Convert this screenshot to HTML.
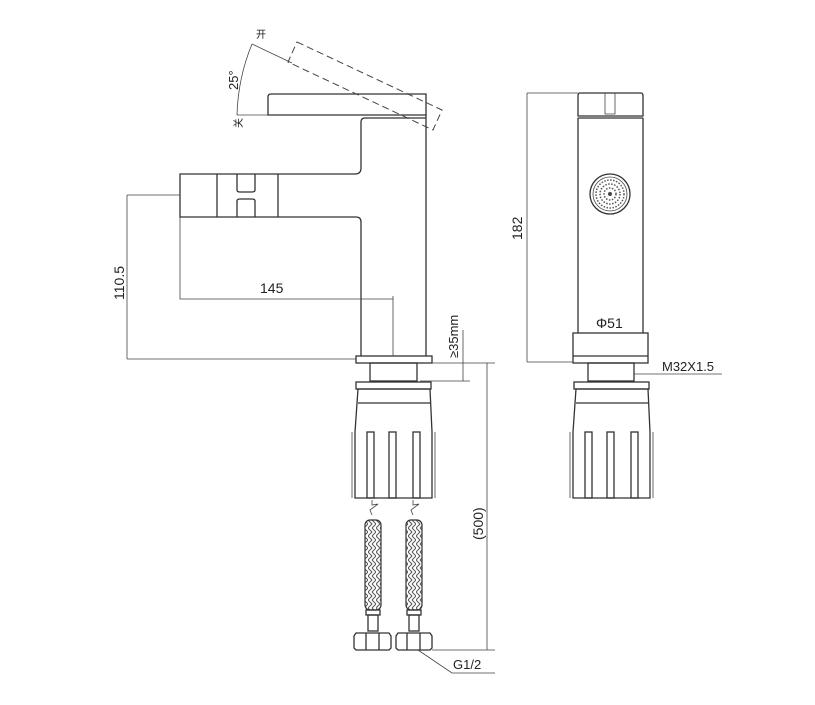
<!DOCTYPE html>
<html><head><meta charset="utf-8"><style>
html,body{margin:0;padding:0;background:#fff;}
svg{display:block;}
text{font-family:"Liberation Sans","Noto Sans CJK SC",sans-serif;fill:#222;}
.s{fill:none;stroke:#333;stroke-width:1.3;}
.t{fill:none;stroke:#444;stroke-width:0.8;}
.d{fill:none;stroke:#444;stroke-width:1;stroke-dasharray:7,4;}
</style></head><body>
<svg width="815" height="705" viewBox="0 0 815 705" xmlns="http://www.w3.org/2000/svg">
<defs>
<pattern id="br" width="8" height="8" patternUnits="userSpaceOnUse">
<path d="M0 0 L4 4 L0 8 M4 0 L8 4 L4 8" stroke="#555" stroke-width="1" fill="none"/>
</pattern>
<g id="nut">
<rect x="356" y="382" width="75" height="7" class="s"/>
<path d="M358 389 L430 389 L432 432 L432 498 L355 498 L355 432 Z" class="s"/>
<line x1="358" y1="403" x2="430" y2="403" class="s"/>
<line x1="352" y1="432" x2="352" y2="498" class="t"/>
<line x1="435" y1="432" x2="435" y2="498" class="t"/>
<rect x="367" y="432" width="7" height="66" class="s"/>
<rect x="389" y="432" width="7" height="66" class="s"/>
<rect x="413" y="432" width="7" height="66" class="s"/>
</g>
</defs>

<!-- LEFT VIEW -->
<path d="M271 94 L426 94 L426 115 L268 115 L268 97 Q268 94 271 94 Z" class="s"/>
<polygon points="297,42 442,110 433,130 288,62" class="d"/>
<line x1="237" y1="115" x2="268" y2="115" class="t"/>
<line x1="252" y1="44" x2="292" y2="63" class="t"/>
<path d="M252 44 Q238 78 237 115" class="t"/>
<text x="256" y="38" font-size="10">开</text>
<text x="242" y="128" font-size="10" transform="rotate(-90 242 128)">关</text>
<text x="238" y="90" font-size="13" transform="rotate(-90 238 90)">25°</text>
<path d="M426 115 L426 356 M361 356 L361 222 Q361 217 356 217 L180 217 L180 174 L355 174 Q361 174 361 168 L361 122 Q361 118 365 118 L426 118" class="s"/>
<line x1="217" y1="174" x2="217" y2="217" class="s"/>
<line x1="278" y1="174" x2="278" y2="217" class="s"/>
<path d="M237 174 L237 190 Q237 192 240 192 L252 192 Q255 192 255 190 L255 174 M237 217 L237 201 Q237 199 240 199 L252 199 Q255 199 255 201 L255 217" class="s"/>
<rect x="356" y="356" width="76" height="7" class="s"/>
<rect x="370" y="363" width="47" height="18" class="s"/>
<use href="#nut"/>
<path d="M372 500 L372 505 L378 504 L370 510 L372 515" class="t"/>
<path d="M413 500 L413 505 L419 504 L411 510 L413 515" class="t"/>
<rect x="365" y="520" width="16" height="90" rx="5" fill="url(#br)" stroke="#333" stroke-width="1.2"/>
<rect x="406" y="520" width="16" height="90" rx="5" fill="url(#br)" stroke="#333" stroke-width="1.2"/>
<rect x="366" y="610" width="14" height="5" class="s"/>
<rect x="407" y="610" width="14" height="5" class="s"/>
<rect x="368" y="615" width="10" height="16" class="s"/>
<rect x="409" y="615" width="10" height="16" class="s"/>
<path d="M356 633 L389 633 L391 636 L391 648 L389 650 L356 650 L354 648 L354 636 Z M366 633 L366 650 M379 633 L379 650" class="s"/>
<path d="M398 633 L430 633 L432 636 L432 648 L430 650 L398 650 L396 648 L396 636 Z M407 633 L407 650 M420 633 L420 650" class="s"/>
<path d="M127 195 L180 195 M127 195 L127 359 M127 359 L356 359" class="t"/>
<text x="124" y="300" font-size="14" transform="rotate(-90 124 300)">110.5</text>
<path d="M180 217 L180 299 L393 299 M393 296 L393 356" class="t"/>
<text x="260" y="293" font-size="14">145</text>
<path d="M463 330 L463 381 M432 363 L495 363 M420 381 L470 381" class="t"/>
<text x="458" y="358" font-size="13" transform="rotate(-90 458 358)">≥35mm</text>
<path d="M487 363 L487 650 M432 650 L495 650" class="t"/>
<text x="483" y="540" font-size="14" font-family="Liberation Serif" transform="rotate(-90 483 540)">(500)</text>
<path d="M418 650 L452 673 L495 673" class="t"/>
<text x="453" y="669" font-size="13" font-family="Liberation Serif">G1/2</text>

<!-- RIGHT VIEW -->
<path d="M580 93 L641 93 Q643 93 643 96 L643 116 L578 116 L578 96 Q578 93 580 93 Z" class="s"/>
<path d="M605 93 L605 114 L615 114 L615 93" class="t"/>
<path d="M578 118 L643 118 M578 118 L578 333 M643 118 L643 333" class="s"/>
<circle cx="610" cy="194" r="20" class="s"/>
<circle cx="610" cy="194" r="17" class="t"/>
<circle cx="610" cy="194" r="14" fill="none" stroke="#555" stroke-width="1.5" stroke-dasharray="1.5,1.5"/>
<circle cx="610" cy="194" r="10" fill="none" stroke="#555" stroke-width="1.5" stroke-dasharray="1.5,1.5"/>
<circle cx="610" cy="194" r="6" fill="none" stroke="#555" stroke-width="1.5" stroke-dasharray="1.5,1.5"/>
<circle cx="610" cy="194" r="2" fill="#444"/>
<rect x="573" y="333" width="75" height="30" class="s"/>
<line x1="573" y1="356" x2="648" y2="356" class="s"/>
<text x="596" y="328" font-size="14">Φ51</text>
<rect x="588" y="363" width="46" height="18" class="s"/>
<use href="#nut" transform="translate(218 0)"/>
<path d="M527 93 L527 362 M527 93 L578 93 M527 362 L573 362" class="t"/>
<text x="522" y="240" font-size="14" transform="rotate(-90 522 240)">182</text>
<path d="M634 374 L722 374" class="t"/>
<text x="662" y="371" font-size="13" font-family="Liberation Serif">M32X1.5</text>
</svg>
</body></html>
